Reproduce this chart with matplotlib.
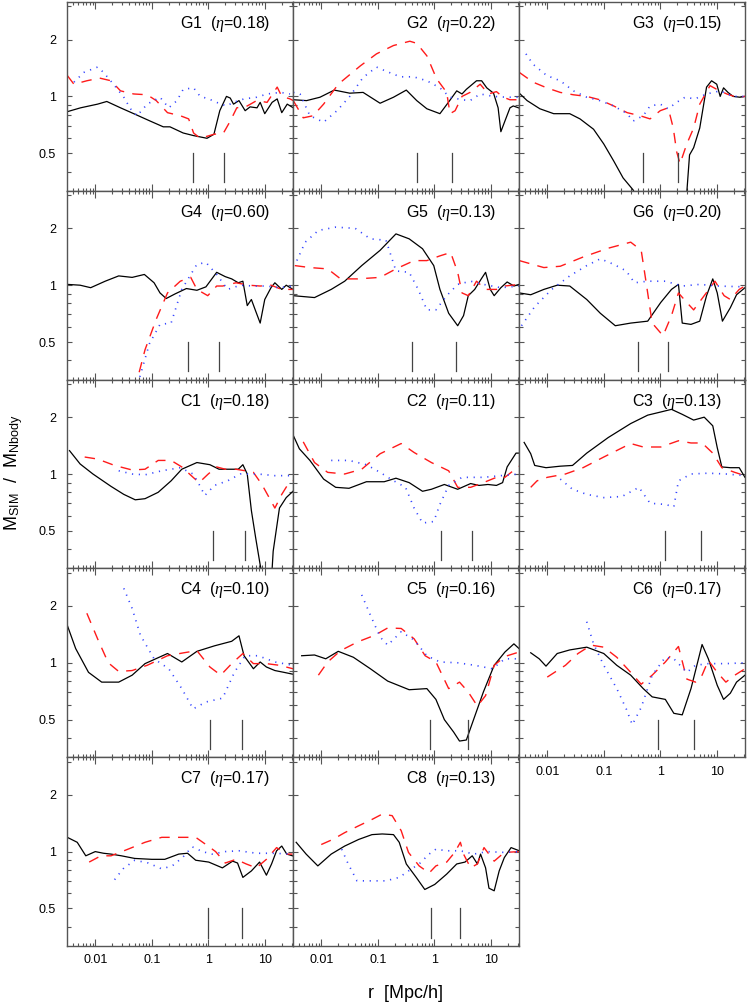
import numpy as np
import matplotlib.pyplot as plt
from matplotlib.ticker import LogLocator, FixedLocator, NullFormatter, FixedFormatter

plt.rcParams['font.family'] = ['Liberation Sans', 'DejaVu Sans']
plt.rcParams['mathtext.fontset'] = 'custom'
plt.rcParams['mathtext.rm'] = 'Liberation Sans'
plt.rcParams['mathtext.it'] = 'Liberation Serif:italic'

# panel names and eta values
names = ['G1', 'G2', 'G3', 'G4', 'G5', 'G6', 'C1', 'C2', 'C3', 'C4', 'C5', 'C6', 'C7', 'C8']
etas = ['0.18', '0.22', '0.15', '0.60', '0.13', '0.20', '0.18', '0.11', '0.13', '0.10', '0.16', '0.17', '0.17', '0.13']

# vertical markers (two radii per panel)
vmarks = [[0.54, 1.87], [0.5, 2.05], [0.49, 2.1], [0.43, 1.58], [0.4, 2.4], [0.4, 1.38],
          [1.2, 4.5], [1.3, 4.6], [1.23, 5.2], [1.07, 3.9], [0.85, 4.0], [0.9, 4.0],
          [0.97, 4.0], [0.87, 2.9]]

# ---- G1
G1_k_r = [0.0032,0.0055,0.011,0.016,0.028,0.048,0.094,0.16,0.21,0.36,0.55,0.95,1.26,1.6,2.1,2.45,2.8,3.5,4.5,5.5,7.3,8.3,10,13.5,16.6,20,25,32]
G1_k_y = [0.83,0.87,0.91,0.94,0.87,0.81,0.74,0.69,0.69,0.64,0.62,0.60,0.63,0.84,1.0,0.98,0.91,0.95,0.84,0.88,0.87,0.93,0.81,0.93,0.97,0.82,0.91,0.87]
G1_r_r = [0.0032,0.0042,0.0071,0.012,0.019,0.028,0.048,0.083,0.12,0.19,0.32,0.45,0.55,0.72,1.26,1.86,2.45,3.2,4.9,7.2,11,16.6,20,28,32]
G1_r_y = [1.29,1.16,1.21,1.25,1.21,1.07,1.03,1.02,0.95,0.82,0.79,0.76,0.64,0.60,0.63,0.64,0.74,0.87,0.89,0.95,0.93,1.12,1.0,0.97,0.95]
G1_b_r = [0.0042,0.0063,0.011,0.014,0.021,0.032,0.042,0.055,0.083,0.14,0.2,0.28,0.36,0.55,0.72,1.02,1.4,2.1,2.8,4.3,7.2,11,19,28]
G1_b_y = [1.19,1.34,1.43,1.34,1.16,0.99,0.86,0.79,0.91,0.99,0.87,0.95,1.09,1.11,1.0,0.97,0.93,0.89,0.93,0.97,0.99,1.03,1.05,1.03]

# ---- G2
G2_k_r = [0.0032,0.0055,0.0095,0.017,0.032,0.055,0.11,0.19,0.32,0.49,0.74,1.26,1.78,2.5,3.1,3.7,5.6,6.9,8.5,11.2,13.5,15.1,17.8,21.9,25,31]
G2_k_y = [0.96,0.95,0.99,1.08,1.04,1.05,0.92,0.99,1.08,0.95,0.86,0.81,0.93,1.07,1.03,1.09,1.21,1.21,1.11,1.04,0.87,0.65,0.74,0.87,0.89,0.87]
G2_r_r = [0.0032,0.0048,0.0072,0.011,0.02,0.049,0.095,0.19,0.37,0.49,0.74,1.1,1.66,1.9,2.34,3.1,4.3,6.5,9.1,12.6,16.6,21.9,31]
G2_r_y = [0.95,0.77,0.79,0.91,1.16,1.45,1.68,1.86,1.96,1.91,1.64,1.24,1.05,0.81,0.84,1.0,1.05,1.16,1.03,1.06,0.99,0.96,0.96]
G2_b_r = [0.0032,0.0042,0.0063,0.011,0.019,0.032,0.055,0.095,0.14,0.25,0.43,0.74,1.26,1.9,3.1,4.3,6.5,11.2,19,31]
G2_b_y = [1.05,1.03,0.79,0.73,0.84,1.0,1.26,1.43,1.36,1.27,1.27,1.21,1.11,0.99,0.96,0.95,1.03,1.0,0.99,0.99]

# ---- G3
G3_k_r = [0.0032,0.0044,0.0074,0.013,0.025,0.038,0.066,0.1,0.15,0.22,0.33,0.5,2.5,2.95,3.3,3.9,5.0,6.6,8.1,10,11.5,13.2,15.8,19.5,25.7,31.6]
G3_k_y = [1.04,0.95,0.86,0.81,0.81,0.76,0.67,0.56,0.455,0.37,0.32,0.25,0.25,0.31,0.49,0.535,0.68,1.12,1.21,1.16,1.0,1.11,1.05,1.0,0.99,1.0]
G3_r_r = [0.0032,0.0056,0.0098,0.017,0.029,0.05,0.085,0.15,0.26,0.44,0.66,1.0,1.38,1.7,1.95,2.24,2.95,3.9,5.0,7.6,10,15.1,22.4,31.6]
G3_r_y = [1.34,1.19,1.11,1.05,1.02,1.0,0.96,0.89,0.82,0.79,0.76,0.84,0.87,0.68,0.51,0.44,0.56,0.68,0.91,1.14,1.09,1.03,0.99,1.0]
G3_b_r = [0.0042,0.0056,0.0098,0.017,0.029,0.05,0.085,0.15,0.26,0.33,0.5,0.66,1.0,1.38,1.95,2.75,4.1,6.6,11.5,19.5,31.6]
G3_b_y = [1.68,1.48,1.29,1.21,1.07,0.99,0.95,0.89,0.81,0.74,0.79,0.89,0.91,0.86,0.93,0.99,0.97,1.03,1.07,1.0,1.0]

# ---- G4
G4_k_r = [0.0032,0.0054,0.0083,0.015,0.026,0.045,0.074,0.11,0.14,0.18,0.26,0.41,0.63,0.91,1.41,2.0,2.6,3.4,4.1,4.9,5.8,6.9,8.3,10,12.9,15.1,20,24,31.6]
G4_k_y = [1.01,1.0,0.97,1.05,1.12,1.1,1.14,1.03,0.91,0.85,0.9,0.96,0.94,0.98,1.17,1.11,1.08,1.03,1.05,0.78,0.84,0.73,0.63,0.84,0.97,1.03,0.95,1.0,0.95]
G4_r_r = [0.045,0.059,0.076,0.12,0.19,0.32,0.49,0.63,0.98,1.41,1.8,3.1,5.2,8.3,12.9,20,31.6]
G4_r_y = [0.28,0.34,0.455,0.66,0.91,1.05,1.1,0.95,0.88,0.99,0.99,1.03,1.0,0.99,1.0,0.95,0.95]
G4_b_r = [0.05,0.062,0.091,0.14,0.22,0.34,0.63,0.91,1.41,2.2,3.7,6.3,10.7,18,31.6]
G4_b_y = [0.28,0.33,0.49,0.62,0.63,0.95,1.29,1.32,1.14,0.95,1.0,0.99,0.99,0.97,0.99]

# ---- G5
G5_k_r = [0.0032,0.0076,0.015,0.026,0.052,0.11,0.21,0.36,0.62,0.98,1.26,1.8,2.6,3.3,4.0,5.2,6.8,8.1,9.8,11.5,15.1,19.5,25.7,31.6]
G5_k_y = [0.88,0.86,0.95,1.05,1.27,1.53,1.87,1.76,1.56,1.27,0.95,0.71,0.61,0.69,0.88,0.95,1.08,1.17,0.95,0.88,0.97,1.04,0.99,1.01]
G5_r_r = [0.0034,0.0063,0.013,0.022,0.044,0.11,0.21,0.44,0.74,1.26,1.95,2.6,3.1,4.0,5.6,8.1,12.6,17.8,31.6]
G5_r_y = [1.27,1.24,1.22,1.08,1.08,1.1,1.22,1.35,1.35,1.43,1.49,1.17,0.91,0.88,1.05,0.95,0.95,0.99,1.01]
G5_b_r = [0.0037,0.0052,0.0089,0.018,0.04,0.074,0.14,0.21,0.36,0.52,0.74,1.07,1.66,2.6,4.4,7.4,15.1,31.6]
G5_b_y = [1.35,1.69,1.95,2.03,2.0,1.76,1.73,1.19,1.17,0.95,0.74,0.74,0.88,1.01,1.05,1.01,0.97,0.99]

# ---- G6
G6_k_r = [0.0032,0.0051,0.0087,0.015,0.025,0.05,0.087,0.16,0.3,0.6,1.02,1.58,2.1,2.45,3.5,5.0,6.6,8.5,10.2,12.6,17.4,22.4,31.6]
G6_k_y = [0.91,0.89,0.95,1.0,0.99,0.84,0.71,0.61,0.63,0.645,0.81,0.95,1.01,0.63,0.62,0.645,0.88,1.08,0.91,0.645,0.76,0.89,0.97]
G6_r_r = [0.0032,0.0087,0.017,0.043,0.12,0.3,0.46,0.55,0.72,1.12,1.58,2.1,2.95,3.9,6.0,9.3,13.5,17.4,25,31.6]
G6_r_y = [1.35,1.24,1.26,1.41,1.57,1.69,1.53,1.08,0.63,0.54,0.69,0.91,0.81,0.74,0.88,1.05,0.88,0.84,0.95,0.99]
G6_b_r = [0.0035,0.006,0.012,0.025,0.05,0.087,0.15,0.25,0.35,0.6,1.23,2.45,5.0,10.2,31.6]
G6_b_y = [0.61,0.77,0.95,1.12,1.27,1.38,1.29,1.19,1.03,1.05,1.05,0.99,1.01,0.99,0.98]

# ---- C1
C1_k_r = [0.0035,0.0054,0.0091,0.019,0.032,0.051,0.076,0.13,0.22,0.34,0.63,1.07,1.55,2.4,3.4,4.1,4.9,5.8,6.9,8.3,10,12.9,14.1,18.2,24,31.6]
C1_k_y = [1.33,1.13,1.0,0.86,0.78,0.73,0.74,0.8,0.92,1.06,1.15,1.12,1.06,1.06,1.06,1.12,1.0,0.64,0.46,0.33,0.25,0.25,0.39,0.66,0.75,0.81]
C1_r_r = [0.0065,0.011,0.022,0.045,0.076,0.13,0.22,0.34,0.54,0.69,1.0,1.41,2.0,3.1,4.5,6.3,8.9,12.9,15.1,20,25.7,31.6]
C1_r_y = [1.23,1.2,1.11,1.05,1.06,1.18,1.18,1.09,0.96,0.9,1.0,1.09,1.06,1.06,1.04,1.02,0.88,0.72,0.66,0.78,0.88,0.92]
C1_b_r = [0.026,0.045,0.076,0.15,0.32,0.54,0.69,0.87,1.29,2.2,3.7,7.6,15.1,31.6]
C1_b_y = [1.04,1.0,0.99,1.04,1.08,1.0,0.88,0.77,0.87,0.92,1.0,1.0,0.98,0.98]

# ---- C2
C2_k_r = [0.0032,0.0041,0.0063,0.011,0.018,0.031,0.063,0.13,0.21,0.36,0.62,0.89,1.51,2.6,4.4,6.2,8.9,12.6,16.2,19.5,28,31.6]
C2_k_y = [1.6,1.36,1.18,0.94,0.85,0.84,0.91,0.91,0.95,0.9,0.81,0.83,0.88,0.83,0.89,0.87,0.88,0.87,0.9,1.09,1.29,1.29]
C2_r_r = [0.0048,0.0076,0.013,0.026,0.052,0.11,0.26,0.44,0.89,1.8,2.6,4.4,7.4,12.6,17.8,31.6]
C2_r_y = [1.48,1.15,1.02,1.0,1.06,1.28,1.45,1.3,1.15,1.04,0.85,0.85,0.9,0.96,0.96,1.1]
C2_b_r = [0.015,0.031,0.063,0.11,0.18,0.31,0.44,0.62,0.98,1.26,1.8,3.1,7.4,15.1,31.6]
C2_b_y = [1.18,1.18,1.12,1.02,0.93,0.85,0.66,0.55,0.56,0.69,0.87,0.96,0.96,0.98,1.0]

# ---- C3
C3_k_r = [0.0039,0.0051,0.006,0.0095,0.017,0.028,0.05,0.12,0.3,0.6,1.02,1.58,2.45,3.9,6.0,8.5,10.2,12.3,17.4,25,31.6]
C3_k_y = [1.47,1.28,1.11,1.08,1.1,1.11,1.29,1.56,1.85,2.05,2.13,2.2,2.07,1.93,2.0,1.8,1.38,1.09,1.08,1.08,0.96]
C3_r_r = [0.0051,0.0066,0.01,0.021,0.043,0.1,0.3,0.5,1.02,2.1,3.5,5.5,8.5,12.3,20.9,31.6]
C3_r_y = [0.85,0.92,0.96,1.0,1.08,1.23,1.45,1.39,1.39,1.5,1.46,1.46,1.29,1.08,1.02,0.98]
C3_b_r = [0.017,0.028,0.05,0.1,0.21,0.42,0.66,1.23,1.74,2.1,3.5,7.1,14.5,31.6]
C3_b_y = [0.94,0.83,0.78,0.75,0.76,0.85,0.7,0.69,0.67,0.92,1.0,1.01,1.0,0.98]

# ---- C4
C4_k_r = [0.0032,0.0045,0.0076,0.013,0.026,0.045,0.076,0.19,0.34,0.63,1.29,2.6,3.5,4.3,6.3,8.3,10.7,15.1,21.9,31.6]
C4_k_y = [1.58,1.19,0.89,0.79,0.79,0.86,0.99,1.12,1.01,1.15,1.23,1.3,1.39,1.09,0.93,1.01,0.95,0.91,0.89,0.87]
C4_r_r = [0.0071,0.011,0.017,0.026,0.045,0.083,0.19,0.37,0.63,1.07,1.66,2.6,4.1,6.3,10.7,18.2,31.6]
C4_r_y = [1.83,1.34,1.0,0.9,0.91,0.97,1.09,1.13,1.16,0.95,0.86,0.99,1.12,0.99,0.99,0.97,0.93]
C4_b_r = [0.032,0.045,0.063,0.11,0.2,0.34,0.54,0.91,1.8,2.9,4.5,7.6,15.1,31.6]
C4_b_y = [2.48,1.94,1.4,1.05,0.93,0.73,0.57,0.62,0.65,0.89,1.09,1.09,1.01,0.97]

# ---- C5
C5_k_r = [0.0045,0.0076,0.012,0.02,0.037,0.074,0.15,0.36,0.74,1.07,1.51,2.2,2.8,3.7,5.2,7.4,11.5,17.8,25.7,31.6]
C5_k_y = [1.09,1.1,1.05,1.15,1.07,0.93,0.8,0.72,0.73,0.64,0.5,0.43,0.385,0.39,0.52,0.7,0.97,1.14,1.26,1.19]
C5_r_r = [0.0089,0.013,0.022,0.044,0.089,0.15,0.26,0.44,0.69,1.07,1.8,2.8,4.0,5.8,8.1,11.5,17.8,31.6]
C5_r_y = [0.86,1.01,1.16,1.29,1.4,1.53,1.52,1.34,1.09,1.01,0.73,0.79,0.7,0.59,0.67,0.97,1.08,1.14]
C5_b_r = [0.052,0.074,0.11,0.15,0.26,0.44,0.74,1.26,2.6,5.2,10.7,17.8,31.6]
C5_b_y = [2.29,1.79,1.37,1.24,1.46,1.32,1.09,1.01,1.0,0.97,0.93,1.05,1.05]

# ---- C6
C6_k_r = [0.0051,0.0072,0.0095,0.015,0.025,0.05,0.1,0.17,0.3,0.5,0.72,1.23,1.74,2.45,3.5,4.6,5.5,7.1,10.2,13.2,17.4,22.4,31.6]
C6_k_y = [1.13,1.05,0.96,1.12,1.17,1.21,1.12,0.97,0.86,0.73,0.66,0.64,0.54,0.53,0.73,1.01,1.25,1.05,0.76,0.64,0.69,0.79,0.86]
C6_r_r = [0.01,0.021,0.035,0.06,0.1,0.17,0.3,0.46,0.72,1.23,2.1,2.95,4.2,5.5,7.1,10.2,14.5,20.9,31.6]
C6_r_y = [0.84,0.97,1.12,1.24,1.21,1.07,0.89,0.77,0.86,1.01,1.22,0.82,0.79,0.86,1.03,0.89,0.79,0.86,0.93]
C6_b_r = [0.05,0.066,0.1,0.17,0.25,0.32,0.46,0.72,1.23,1.74,2.95,4.2,7.1,14.5,31.6]
C6_b_y = [1.65,1.26,0.97,0.73,0.57,0.47,0.58,0.86,1.07,1.05,0.89,0.97,0.99,0.99,1.0]

# ---- C7
C7_k_r = [0.0032,0.0048,0.0068,0.01,0.014,0.019,0.029,0.05,0.1,0.17,0.3,0.43,0.6,1.02,1.78,2.7,3.3,4.1,5.8,8.1,10.7,13.2,16.2,20,24.5,31]
C7_k_y = [1.19,1.12,0.95,1.0,0.98,0.97,0.95,0.92,0.91,0.91,0.97,0.98,0.9,0.88,0.82,0.89,0.87,0.73,0.79,0.88,0.75,0.86,1.01,1.07,0.97,0.95]
C7_r_r = [0.0078,0.0126,0.019,0.038,0.076,0.15,0.35,0.6,0.91,1.35,2.0,3.1,4.7,7.1,10.7,16.2,24.5,31]
C7_r_y = [0.88,0.95,0.95,1.03,1.12,1.19,1.19,1.19,1.09,1.0,0.87,0.91,0.86,0.82,0.91,1.05,0.97,0.97]
C7_b_r = [0.022,0.031,0.05,0.087,0.15,0.23,0.35,0.52,0.79,1.17,2.0,3.5,7.1,14.1,31]
C7_b_y = [0.71,0.81,0.9,0.87,0.81,0.84,0.93,1.06,1.0,0.97,1.0,1.01,0.98,0.98,0.97]

# ---- C8
C8_k_r = [0.0036,0.0054,0.0087,0.015,0.026,0.046,0.079,0.12,0.19,0.24,0.32,0.48,0.68,1.02,1.66,2.5,3.5,4.7,5.8,6.6,8.1,9.3,11.5,14.1,17.4,22.9,32]
C8_k_y = [1.12,0.97,0.84,0.97,1.07,1.16,1.23,1.24,1.23,1.12,0.86,0.73,0.63,0.67,0.76,0.86,0.88,0.95,0.86,0.97,0.82,0.64,0.62,0.79,0.93,1.05,1.01]
C8_r_r = [0.01,0.016,0.026,0.046,0.079,0.12,0.18,0.26,0.35,0.54,0.81,1.07,1.66,2.3,2.9,3.3,4.4,5.8,7.6,11.5,17.4,32]
C8_r_y = [1.09,1.16,1.26,1.37,1.48,1.58,1.55,1.29,0.99,0.84,0.77,0.84,0.88,0.99,1.12,0.97,0.82,0.86,1.05,0.89,0.99,1.0]
C8_b_r = [0.023,0.03,0.043,0.079,0.14,0.24,0.35,0.54,0.81,1.07,1.66,2.9,5.0,8.7,17.4,32]
C8_b_y = [1.03,0.86,0.7,0.7,0.7,0.73,0.79,0.86,0.97,1.03,1.01,1.01,0.97,1.0,0.99,1.0]

curves = [
    (G1_k_r, G1_k_y, G1_r_r, G1_r_y, G1_b_r, G1_b_y),
    (G2_k_r, G2_k_y, G2_r_r, G2_r_y, G2_b_r, G2_b_y),
    (G3_k_r, G3_k_y, G3_r_r, G3_r_y, G3_b_r, G3_b_y),
    (G4_k_r, G4_k_y, G4_r_r, G4_r_y, G4_b_r, G4_b_y),
    (G5_k_r, G5_k_y, G5_r_r, G5_r_y, G5_b_r, G5_b_y),
    (G6_k_r, G6_k_y, G6_r_r, G6_r_y, G6_b_r, G6_b_y),
    (C1_k_r, C1_k_y, C1_r_r, C1_r_y, C1_b_r, C1_b_y),
    (C2_k_r, C2_k_y, C2_r_r, C2_r_y, C2_b_r, C2_b_y),
    (C3_k_r, C3_k_y, C3_r_r, C3_r_y, C3_b_r, C3_b_y),
    (C4_k_r, C4_k_y, C4_r_r, C4_r_y, C4_b_r, C4_b_y),
    (C5_k_r, C5_k_y, C5_r_r, C5_r_y, C5_b_r, C5_b_y),
    (C6_k_r, C6_k_y, C6_r_r, C6_r_y, C6_b_r, C6_b_y),
    (C7_k_r, C7_k_y, C7_r_r, C7_r_y, C7_b_r, C7_b_y),
    (C8_k_r, C8_k_y, C8_r_r, C8_r_y, C8_b_r, C8_b_y),
]

W, H = 747, 1002
fig = plt.figure(figsize=(W / 100, H / 100), dpi=100)

x0, y0 = 67, 2      # top-left corner of the grid in pixels
pw, ph = 226, 188.8  # panel size in pixels
frame = '#555555'

for i, name in enumerate(names):
    row, col = divmod(i, 3)
    ax = fig.add_axes([(x0 + col * pw) / W, 1 - (y0 + (row + 1) * ph) / H, pw / W, ph / H])
    kr, ky, rr, ry, br, by = curves[i]
    ax.plot(kr, ky, color='black', lw=0.9)
    ax.plot(rr, ry, color='#ff1a1a', lw=1.0, dashes=(7.5, 6))
    ax.plot(br, by, color='#3344ff', lw=1.2, dashes=(0.7, 3.4))
    for xm in vmarks[i]:
        ax.plot([xm, xm], [0.35, 0.5], color='#444444', lw=0.9)

    ax.set_xscale('log')
    ax.set_yscale('log')
    ax.set_xlim(10 ** -2.5, 10 ** 1.5)
    ax.set_ylim(10 ** -0.5, 10 ** 0.5)

    ax.xaxis.set_major_locator(FixedLocator([0.01, 0.1, 1, 10]))
    ax.xaxis.set_minor_locator(LogLocator(base=10, subs=np.arange(2, 10)))
    ax.yaxis.set_major_locator(FixedLocator([0.5, 1, 2]))
    ax.yaxis.set_minor_locator(FixedLocator([0.4, 0.6, 0.7, 0.8, 0.9, 3]))
    ax.xaxis.set_minor_formatter(NullFormatter())
    ax.yaxis.set_minor_formatter(NullFormatter())

    ax.tick_params(which='both', direction='in', top=True, right=True, color=frame,
                   width=0.8, labelsize=9, labelcolor='black')
    ax.tick_params(axis='x', which='major', length=5, pad=6)
    ax.tick_params(axis='x', which='minor', length=2.5)
    ax.tick_params(axis='y', which='major', length=3.8, pad=8)
    ax.tick_params(axis='y', which='minor', length=3)

    show_x = row == 4 or (row == 3 and col == 2)
    if show_x:
        ax.xaxis.set_major_formatter(FixedFormatter(['0.01', '0.1', '1', '10']))
    else:
        ax.tick_params(axis='x', labelbottom=False)
    if col == 0:
        ax.yaxis.set_major_formatter(FixedFormatter(['0.5', '1', '2']))
    else:
        ax.tick_params(axis='y', labelleft=False)

    for sp in ax.spines.values():
        sp.set_color(frame)
        sp.set_linewidth(1.0)

    ax.text(0.898, 0.884, name + '  ($\\eta$=' + etas[i] + ')', transform=ax.transAxes,
            ha='right', va='center', fontsize=11.5)

fig.text(406 / W, 1 - 994 / H, 'r  [Mpc/h]', ha='center', va='center', fontsize=13)
fig.text(14 / W, 1 - 473 / H, 'M$_{\\rm SIM}$  /  M$_{\\rm Nbody}$', ha='center', va='center',
         rotation=90, fontsize=13)

fig.savefig('out.png', dpi=100)
